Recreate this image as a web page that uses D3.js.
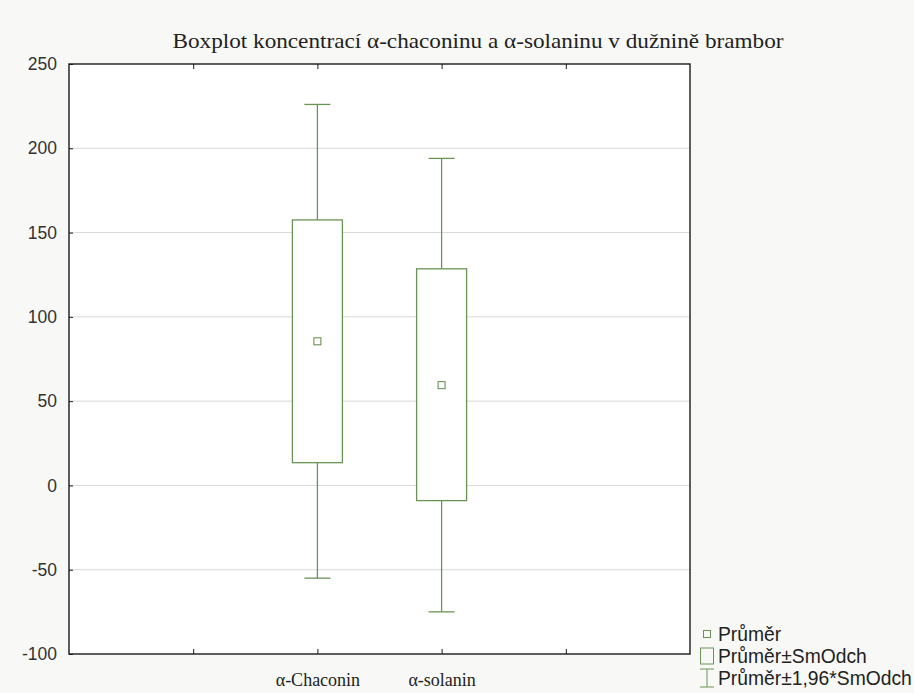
<!DOCTYPE html>
<html>
<head>
<meta charset="utf-8">
<script src="https://cdn.jsdelivr.net/npm/d3@7"></script>
<style>
  body { margin: 0; background: #f8f9f6; }
  svg { display: block; }
</style>
</head>
<body>
<svg id="chart" width="914" height="693"></svg>
<script>
const categories = ['α-Chaconin', 'α-solanin'];
const catSlots = [2, 3];
const means = [85.5, 59.5];
const sdLow = [13.5, -9];
const sdHigh = [157.5, 128.5];
const ciLow = [-55, -75];
const ciHigh = [226, 194];
const yTicks = [-100, -50, 0, 50, 100, 150, 200, 250];
const legendLabels = ['Průměr', 'Průměr±SmOdch', 'Průměr±1,96*SmOdch'];

const GREEN = '#6a9455';
const FRAME = '#1a1a1a';
const GRID = '#d9d9d9';

const svg = d3.select('#chart');
const plotL = 69, plotR = 690, plotT = 64, plotB = 654;

const x = d3.scaleLinear().domain([0, 5]).range([plotL, plotR]);
const y = d3.scaleLinear().domain([-100, 250]).range([plotB, plotT]);

svg.append('rect')
  .attr('x', plotL).attr('y', plotT)
  .attr('width', plotR - plotL).attr('height', plotB - plotT)
  .attr('fill', '#fff');

// grid
svg.append('g')
  .selectAll('line')
  .data(yTicks.filter(d => d > -100 && d < 250))
  .enter()
  .append('line')
  .attr('x1', plotL).attr('x2', plotR)
  .attr('y1', d => y(d)).attr('y2', d => y(d))
  .attr('stroke', GRID).attr('stroke-width', 1);

// y axis, ticks inward
const yAxis = svg.append('g')
  .attr('transform', `translate(${plotL},0)`)
  .call(d3.axisLeft(y).tickValues(yTicks).tickSize(-4).tickPadding(12).tickFormat(d => String(d)));
yAxis.select('.domain').remove();
yAxis.selectAll('line').attr('stroke', FRAME);
yAxis.selectAll('text')
  .attr('font-family', 'Liberation Sans, Arial, sans-serif')
  .attr('font-size', '17.5px')
  .attr('fill', '#333');

// x axis bottom, ticks inward
const labelFor = v => { const i = catSlots.indexOf(v); return i < 0 ? '' : categories[i]; };
const xAxis = svg.append('g')
  .attr('transform', `translate(0,${plotB})`)
  .call(d3.axisBottom(x).tickValues([1, 2, 3, 4]).tickSize(-5).tickPadding(19).tickFormat(labelFor));
xAxis.select('.domain').remove();
xAxis.selectAll('line').attr('stroke', FRAME);
xAxis.selectAll('text')
  .attr('font-family', 'Liberation Serif, Times New Roman, serif')
  .attr('font-size', '18px')
  .attr('fill', '#222');

// top ticks
const xTop = svg.append('g')
  .attr('transform', `translate(0,${plotT})`)
  .call(d3.axisTop(x).tickValues([1, 2, 3, 4]).tickSize(-5).tickFormat(''));
xTop.select('.domain').remove();
xTop.selectAll('line').attr('stroke', FRAME);

// frame
svg.append('rect')
  .attr('x', plotL).attr('y', plotT)
  .attr('width', plotR - plotL).attr('height', plotB - plotT)
  .attr('fill', 'none').attr('stroke', FRAME).attr('stroke-width', 1.4);

// boxes
const boxW = 50, capW = 26;
const g = svg.append('g').attr('stroke', GREEN).attr('fill', 'none').attr('stroke-width', 1.3);
const boxes = g.selectAll('.box')
  .data(categories.map((c, i) => ({ i, cx: x(catSlots[i]) })))
  .enter()
  .append('g')
  .attr('class', 'box');

boxes.append('line')
  .attr('x1', d => d.cx).attr('x2', d => d.cx)
  .attr('y1', d => y(ciHigh[d.i])).attr('y2', d => y(sdHigh[d.i]));
boxes.append('line')
  .attr('x1', d => d.cx).attr('x2', d => d.cx)
  .attr('y1', d => y(sdLow[d.i])).attr('y2', d => y(ciLow[d.i]));
boxes.append('line')
  .attr('x1', d => d.cx - capW / 2).attr('x2', d => d.cx + capW / 2)
  .attr('y1', d => y(ciHigh[d.i])).attr('y2', d => y(ciHigh[d.i]));
boxes.append('line')
  .attr('x1', d => d.cx - capW / 2).attr('x2', d => d.cx + capW / 2)
  .attr('y1', d => y(ciLow[d.i])).attr('y2', d => y(ciLow[d.i]));
boxes.append('rect')
  .attr('x', d => d.cx - boxW / 2).attr('width', boxW)
  .attr('y', d => y(sdHigh[d.i]))
  .attr('height', d => y(sdLow[d.i]) - y(sdHigh[d.i]))
  .attr('fill', '#fff');
boxes.append('rect')
  .attr('x', d => d.cx - 3.5).attr('width', 7)
  .attr('y', d => y(means[d.i]) - 3.5).attr('height', 7)
  .attr('stroke-width', 1.1);

// title
svg.append('text')
  .attr('x', 478).attr('y', 48)
  .attr('text-anchor', 'middle')
  .attr('font-family', 'Liberation Serif, Times New Roman, serif')
  .attr('font-size', '21px')
  .attr('textLength', 611)
  .attr('lengthAdjust', 'spacingAndGlyphs')
  .attr('fill', '#222')
  .text('Boxplot koncentrací α-chaconinu a α-solaninu v dužnině brambor');

// legend
const lg = svg.append('g');
const ly = [634, 656, 678];
const lx = 700;
lg.append('rect').attr('x', lx + 3.5).attr('y', ly[0] - 3.5).attr('width', 7).attr('height', 7)
  .attr('fill', 'none').attr('stroke', GREEN);
lg.append('rect').attr('x', lx + 0.5).attr('y', ly[1] - 8).attr('width', 13).attr('height', 16)
  .attr('fill', 'none').attr('stroke', GREEN);
lg.append('path')
  .attr('d', `M${lx},${ly[2] - 9}H${lx + 14}M${lx + 7},${ly[2] - 9}V${ly[2] + 9}M${lx},${ly[2] + 9}H${lx + 14}`)
  .attr('fill', 'none').attr('stroke', GREEN);
lg.selectAll('text')
  .data(legendLabels)
  .enter()
  .append('text')
  .attr('x', lx + 18)
  .attr('y', (d, i) => ly[i] + 6.5)
  .attr('font-family', 'Liberation Sans, Arial, sans-serif')
  .attr('font-size', '19.3px')
  .attr('fill', '#222')
  .text(d => d);
</script>
</body>
</html>
